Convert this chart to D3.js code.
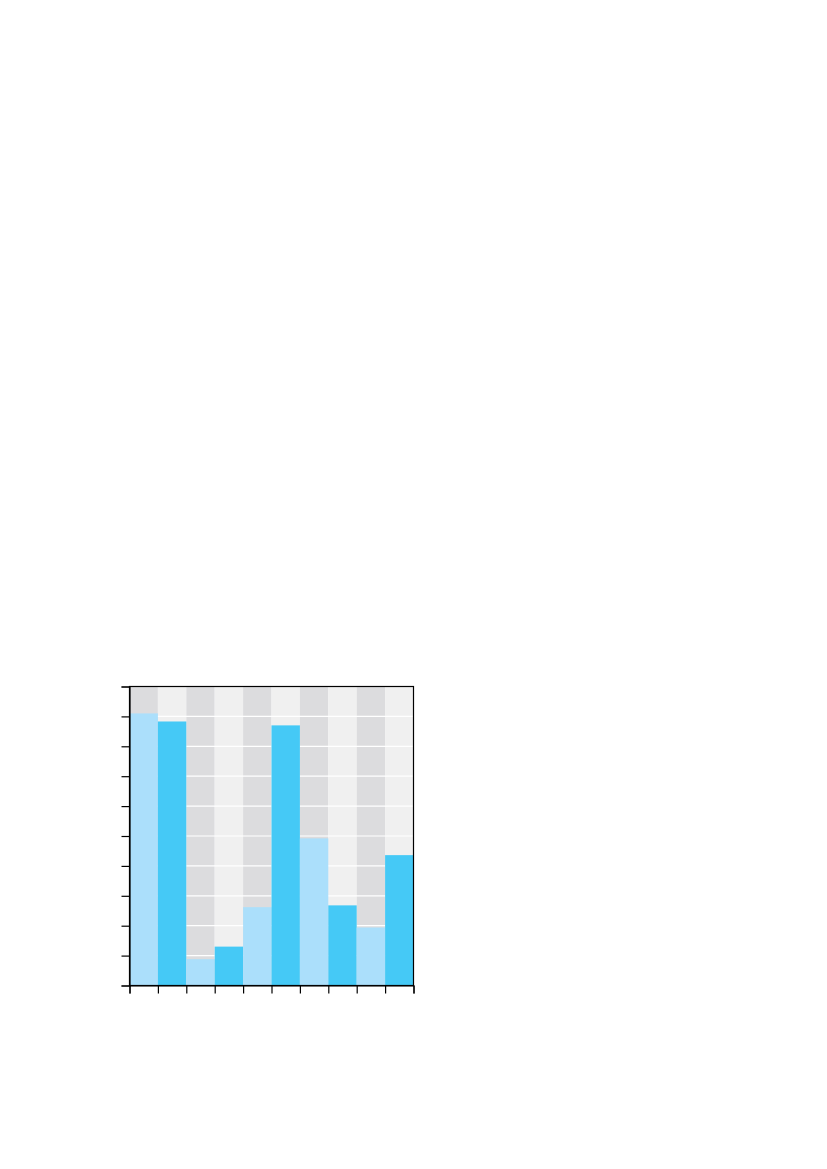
<!DOCTYPE html>
<html lang="en">
<head>
    <meta charset="UTF-8">
    <title>Bars</title>
    <script src="https://cdn.jsdelivr.net/npm/d3@7"></script>
    <style>
        body { margin: 0; background: #fff; }
        .axis path, .axis line
        {
            fill: none;
            stroke: #000;
            stroke-width: 1.2;
        }
        .axis text { display: none; }
    </style>
</head>
<body>
<svg id="img" width="827" height="1169"></svg>
<script>
    // data
    var categories = ["1", "2", "3", "4", "5", "6", "7", "8", "9", "10"];
    var values = [9.1, 8.83, 0.88, 1.3, 2.62, 8.7, 4.92, 2.68, 1.94, 4.36];
    var xTicks = [0, 1, 2, 3, 4, 5, 6, 7, 8, 9, 10];
    var yTicks = [0, 1, 2, 3, 4, 5, 6, 7, 8, 9, 10];

    var barColors = ["#abdffb", "#45c9f6"];
    var bandColors = ["#dcdcde", "#f0f0f0"];

    var vis = d3.select("#img"),
        LEFT = 129.5,
        RIGHT = 413.5,
        TOP = 686.5,
        BOTTOM = 985.5;

    var xRange = d3.scaleLinear()
        .domain([0, categories.length])
        .range([LEFT, RIGHT]);

    var yRange = d3.scaleLinear()
        .domain([0, 10])
        .range([BOTTOM, TOP]);

    // alternating background columns
    vis.append("g").selectAll("rect")
        .data(categories)
        .enter().append("rect")
        .attr("x", function (d, i) { return xRange(i); })
        .attr("y", yRange(10))
        .attr("width", xRange(1) - xRange(0))
        .attr("height", yRange(0) - yRange(10))
        .attr("fill", function (d, i) { return bandColors[i % 2]; });

    // white grid lines
    vis.append("g").selectAll("line")
        .data(yTicks.slice(1, -1))
        .enter().append("line")
        .attr("x1", LEFT)
        .attr("x2", RIGHT)
        .attr("y1", function (d) { return yRange(d); })
        .attr("y2", function (d) { return yRange(d); })
        .attr("stroke", "#fff")
        .attr("stroke-width", 1.2);

    // bars, one per column
    vis.append("g").selectAll("rect")
        .data(values)
        .enter().append("rect")
        .attr("x", function (d, i) { return xRange(i); })
        .attr("y", function (d) { return yRange(d); })
        .attr("width", xRange(1) - xRange(0))
        .attr("height", function (d) { return yRange(0) - yRange(d); })
        .attr("fill", function (d, i) { return barColors[i % 2]; });

    // frame
    vis.append("rect")
        .attr("x", LEFT)
        .attr("y", TOP)
        .attr("width", RIGHT - LEFT)
        .attr("height", BOTTOM - TOP)
        .attr("fill", "none")
        .attr("stroke", "#000")
        .attr("stroke-width", 1.2);

    var xAxis = d3.axisBottom(xRange)
        .tickValues(xTicks)
        .tickFormat("")
        .tickSizeOuter(0)
        .tickSize(8);

    var yAxis = d3.axisLeft(yRange)
        .tickValues(yTicks)
        .tickFormat("")
        .tickSizeOuter(0)
        .tickSize(8);

    vis.append("g")
        .attr("class", "x axis")
        .attr("transform", "translate(0," + BOTTOM + ")")
        .call(xAxis);

    vis.append("g")
        .attr("class", "y axis")
        .attr("transform", "translate(" + LEFT + ",0)")
        .call(yAxis);
</script>
</body>
</html>
